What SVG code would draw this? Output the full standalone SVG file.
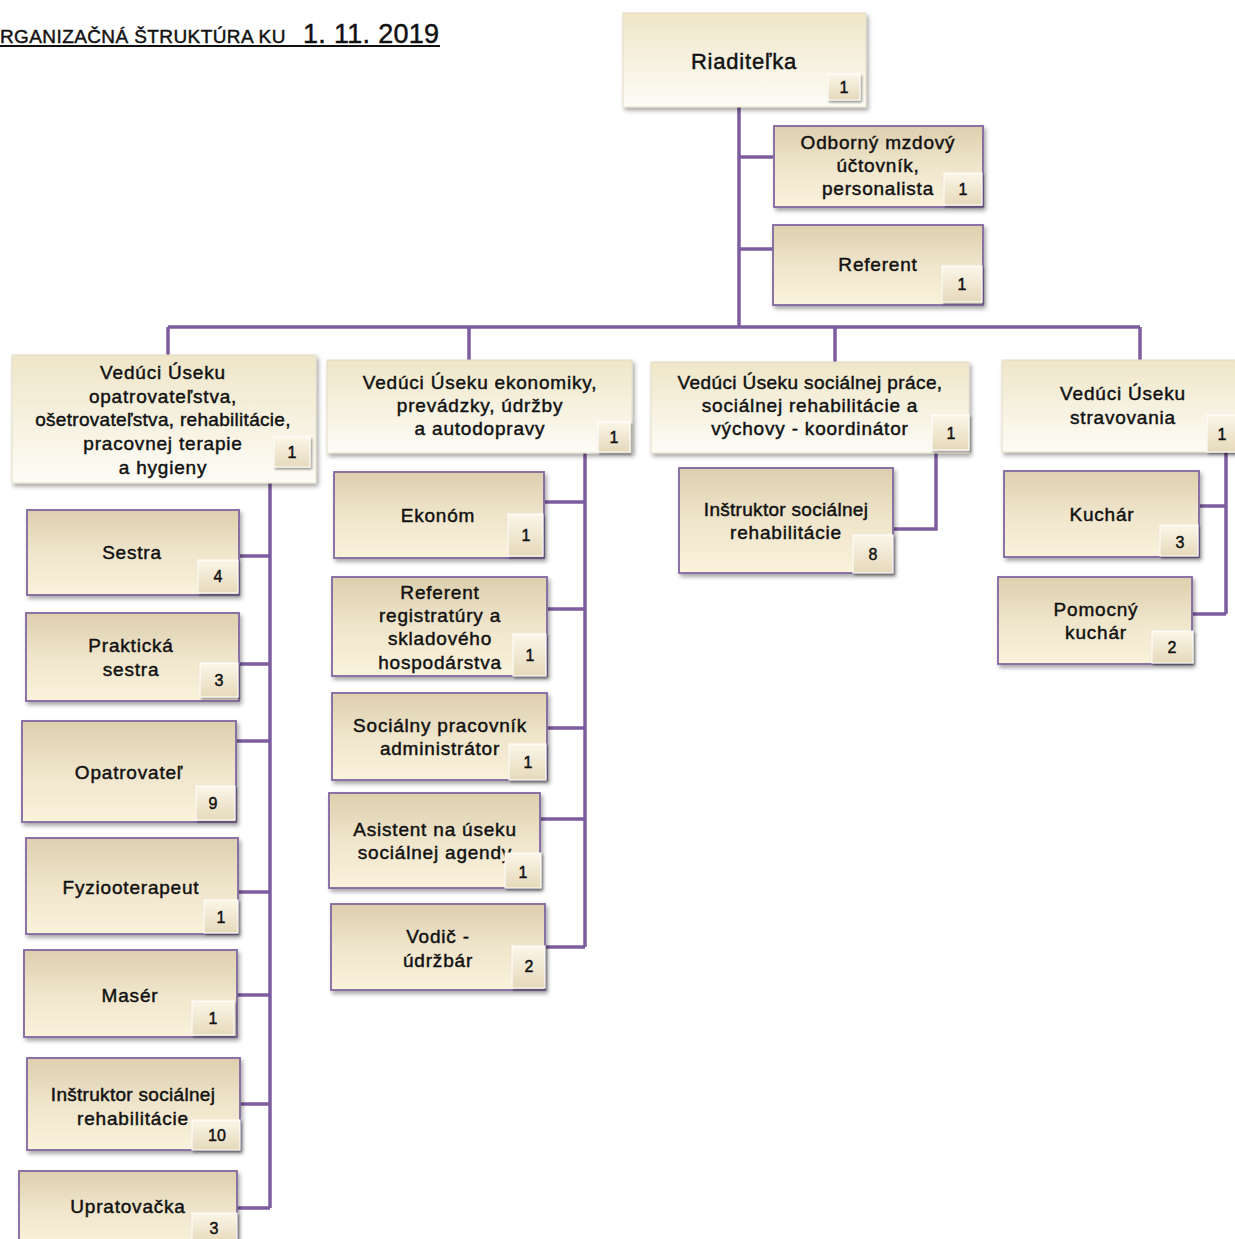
<svg xmlns="http://www.w3.org/2000/svg" width="1235" height="1239" viewBox="0 0 1235 1239">
<defs>
<linearGradient id="gh" x1="0" y1="0" x2="0" y2="1"><stop offset="0" stop-color="#efe6c8"/><stop offset="1" stop-color="#fdfcf6"/></linearGradient>
<linearGradient id="gc" x1="0" y1="0" x2="0" y2="1"><stop offset="0" stop-color="#ddcfae"/><stop offset="0.5" stop-color="#efe5cb"/><stop offset="1" stop-color="#fbf2dc"/></linearGradient>
<linearGradient id="gb" x1="0" y1="0" x2="0" y2="1"><stop offset="0" stop-color="#fbf6e8"/><stop offset="1" stop-color="#e6d9bb"/></linearGradient>
<filter id="sh" x="-10%" y="-10%" width="125%" height="130%"><feDropShadow dx="2" dy="3" stdDeviation="2" flood-color="#000" flood-opacity="0.35"/></filter>
<filter id="bsh" x="-20%" y="-20%" width="150%" height="150%"><feDropShadow dx="1.5" dy="2" stdDeviation="1.2" flood-color="#000" flood-opacity="0.4"/></filter>
</defs>
<style>
text{font-family:"Liberation Sans",Arial,sans-serif;fill:#111;text-anchor:middle;stroke:#111;stroke-width:0.45}
.t{font-size:19px;letter-spacing:0.8px}
.b{font-size:16px}
.hdr{fill:url(#gh);stroke:#e4dcc6;stroke-width:1;filter:url(#sh)}
.chd{fill:url(#gc);stroke:#8066a0;stroke-width:1.8;filter:url(#sh)}
.bdg{fill:url(#gb);stroke:#ffffff;stroke-width:1;filter:url(#bsh)}
.ln{stroke:#7d5d9f;stroke-width:3.5;fill:none}
</style>
<g id="title">
<text x="0" y="43" style="text-anchor:start;font-size:19px;letter-spacing:0.4px">RGANIZAČNÁ ŠTRUKTÚRA KU</text>
<text x="303" y="43" style="text-anchor:start;font-size:27px;letter-spacing:0.3px">1. 11. 2019</text>
<line x1="0" y1="46" x2="440" y2="46" stroke="#111" stroke-width="2"/>
</g>
<g id="connectors">
<path class="ln" d="M739 107V326M739 157H773M739 249H773"/>
<path class="ln" d="M168 327H1140M168 327V355M469 327V360M835 327V362M1140 327V360"/>
<path class="ln" d="M270 483V1208M240 556H270M240 664H270M237 741H270M239 892H270M237 995H270M241 1104H270M238 1208H270"/>
<path class="ln" d="M585 453V947M545 502H585M548 609H585M548 728H585M541 819H585M546 947H585"/>
<path class="ln" d="M936 453V529H893"/>
<path class="ln" d="M1226 452V614M1199 506H1226M1193 614H1226"/>
</g>
<g id="n-riaditelka"><rect class="hdr" x="623" y="13" width="243" height="94"/><text class="t" x="744" y="69" style="font-size:22px">Riaditeľka</text><rect class="bdg" x="828" y="74" width="32" height="26"/><text class="b" x="844" y="93">1</text></g>
<g id="n-odborny"><rect class="chd" x="774" y="126" width="209" height="81"/><text class="t" x="878" y="149">Odborný mzdový</text><text class="t" x="878" y="172">účtovník,</text><text class="t" x="878" y="195">personalista</text><rect class="bdg" x="944" y="173" width="38" height="32"/><text class="b" x="963" y="195">1</text></g>
<g id="n-referent"><rect class="chd" x="773" y="225" width="210" height="80"/><text class="t" x="878" y="271">Referent</text><rect class="bdg" x="942" y="266" width="40" height="36"/><text class="b" x="962" y="290">1</text></g>

<g id="n-veduci1"><rect class="hdr" x="12" y="355" width="304" height="128"/><text class="t" x="163" y="379">Vedúci Úseku</text><text class="t" x="163" y="403">opatrovateľstva,</text><text class="t" x="163" y="426" style="letter-spacing:0.3px">ošetrovateľstva, rehabilitácie,</text><text class="t" x="163" y="450">pracovnej terapie</text><text class="t" x="163" y="474">a hygieny</text><rect class="bdg" x="274" y="437" width="36" height="30"/><text class="b" x="292" y="458">1</text></g>
<g id="n-veduci2"><rect class="hdr" x="327" y="360" width="305" height="93"/><text class="t" x="480" y="389">Vedúci Úseku ekonomiky,</text><text class="t" x="480" y="412">prevádzky, údržby</text><text class="t" x="480" y="435">a autodopravy</text><rect class="bdg" x="598" y="422" width="32" height="30"/><text class="b" x="614" y="443">1</text></g>
<g id="n-veduci3"><rect class="hdr" x="651" y="362" width="318" height="91"/><text class="t" x="810" y="389" style="letter-spacing:0.4px">Vedúci  Úseku sociálnej práce,</text><text class="t" x="810" y="412">sociálnej rehabilitácie a</text><text class="t" x="810" y="435">výchovy - koordinátor</text><rect class="bdg" x="932" y="415" width="37" height="35"/><text class="b" x="951" y="439">1</text></g>
<g id="n-veduci4"><rect class="hdr" x="1002" y="360" width="240" height="92"/><text class="t" x="1123" y="400">Vedúci Úseku</text><text class="t" x="1123" y="424">stravovania</text><rect class="bdg" x="1207" y="415" width="32" height="37"/><text class="b" x="1222" y="440">1</text></g>

<g id="n-sestra"><rect class="chd" x="27" y="510" width="212" height="85"/><text class="t" x="132" y="559">Sestra</text><rect class="bdg" x="198" y="560" width="40" height="33"/><text class="b" x="218" y="582">4</text></g>
<g id="n-prakticka"><rect class="chd" x="26" y="613" width="213" height="88"/><text class="t" x="131" y="652">Praktická</text><text class="t" x="131" y="676">sestra</text><rect class="bdg" x="200" y="663" width="38" height="34"/><text class="b" x="219" y="686">3</text></g>
<g id="n-opatrovatel"><rect class="chd" x="22" y="721" width="214" height="101"/><text class="t" x="129" y="779">Opatrovateľ</text><rect class="bdg" x="196" y="786" width="39" height="34"/><text class="b" x="213" y="809">9</text></g>
<g id="n-fyzio"><rect class="chd" x="26" y="838" width="212" height="96"/><text class="t" x="131" y="894">Fyziooterapeut</text><rect class="bdg" x="204" y="900" width="34" height="33"/><text class="b" x="221" y="923">1</text></g>
<g id="n-maser"><rect class="chd" x="24" y="950" width="213" height="87"/><text class="t" x="130" y="1002">Masér</text><rect class="bdg" x="192" y="1001" width="42" height="34"/><text class="b" x="213" y="1024">1</text></g>
<g id="n-instruktor1"><rect class="chd" x="27" y="1058" width="213" height="92"/><text class="t" x="133" y="1101" style="letter-spacing:0.3px">Inštruktor sociálnej</text><text class="t" x="133" y="1125">rehabilitácie</text><rect class="bdg" x="192" y="1120" width="48" height="30"/><text class="b" x="217" y="1141">10</text></g>
<g id="n-upratovacka"><rect class="chd" x="19" y="1171" width="218" height="75"/><text class="t" x="128" y="1213">Upratovačka</text><rect class="bdg" x="192" y="1213" width="45" height="30"/><text class="b" x="214" y="1234">3</text></g>

<g id="n-ekonom"><rect class="chd" x="334" y="472" width="210" height="86"/><text class="t" x="438" y="522">Ekonóm</text><rect class="bdg" x="508" y="514" width="35" height="42"/><text class="b" x="526" y="541">1</text></g>
<g id="n-registratura"><rect class="chd" x="332" y="577" width="215" height="99"/><text class="t" x="440" y="599">Referent</text><text class="t" x="440" y="622">registratúry a</text><text class="t" x="440" y="645">skladového</text><text class="t" x="440" y="669">hospodárstva</text><rect class="bdg" x="513" y="634" width="33" height="42"/><text class="b" x="530" y="661">1</text></g>
<g id="n-socialny"><rect class="chd" x="332" y="693" width="215" height="87"/><text class="t" x="440" y="732">Sociálny pracovník</text><text class="t" x="440" y="755">administrátor</text><rect class="bdg" x="509" y="744" width="37" height="36"/><text class="b" x="528" y="768">1</text></g>
<g id="n-asistent"><rect class="chd" x="329" y="793" width="211" height="95"/><text class="t" x="435" y="836">Asistent na úseku</text><text class="t" x="435" y="859">sociálnej agendy</text><rect class="bdg" x="505" y="853" width="36" height="35"/><text class="b" x="523" y="878">1</text></g>
<g id="n-vodic"><rect class="chd" x="331" y="904" width="214" height="86"/><text class="t" x="438" y="943">Vodič -</text><text class="t" x="438" y="967">údržbár</text><rect class="bdg" x="512" y="946" width="33" height="42"/><text class="b" x="529" y="972">2</text></g>

<g id="n-instruktor2"><rect class="chd" x="679" y="468" width="214" height="105"/><text class="t" x="786" y="516" style="letter-spacing:0.3px">Inštruktor sociálnej</text><text class="t" x="786" y="539">rehabilitácie</text><rect class="bdg" x="853" y="535" width="40" height="38"/><text class="b" x="873" y="560">8</text></g>

<g id="n-kuchar"><rect class="chd" x="1004" y="471" width="195" height="86"/><text class="t" x="1102" y="521">Kuchár</text><rect class="bdg" x="1160" y="525" width="38" height="31"/><text class="b" x="1180" y="548">3</text></g>
<g id="n-pomocny"><rect class="chd" x="998" y="577" width="194" height="87"/><text class="t" x="1096" y="616">Pomocný</text><text class="t" x="1096" y="639">kuchár</text><rect class="bdg" x="1152" y="631" width="41" height="32"/><text class="b" x="1172" y="653">2</text></g>
</svg>
